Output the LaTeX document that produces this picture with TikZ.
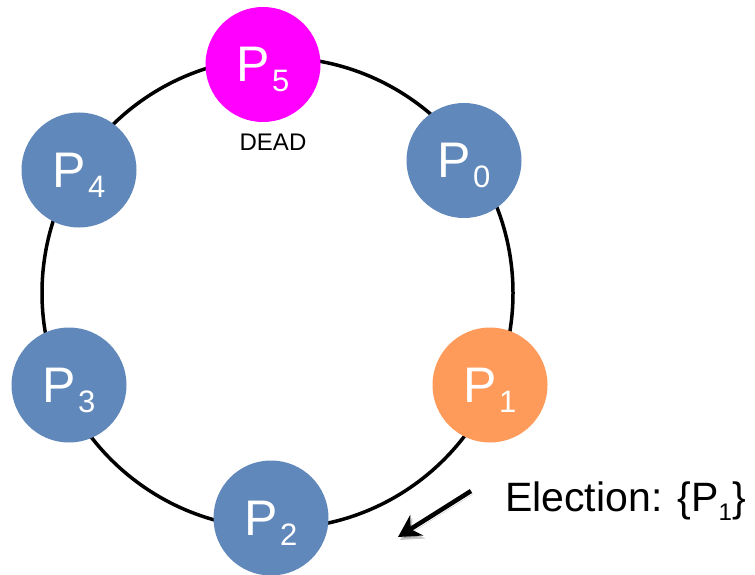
\documentclass[tikz,border=0pt]{standalone}
\usepackage{fontspec}
\setmainfont{Liberation Sans}
\usetikzlibrary{arrows.meta}
\definecolor{procblue}{HTML}{6088BA}
\definecolor{procorange}{HTML}{FE9A5A}
\definecolor{procdead}{HTML}{FF00FF}
\newcommand{\procname}[1]{P\kern2pt\raisebox{-10pt}[0pt][0pt]{\fontsize{31}{31}\selectfont #1}}

\begin{document}
\begin{tikzpicture}[
  x=1pt,y=-1pt,
  ring/.style={draw=black,line width=3.5pt},
  proc/.style={circle,minimum size=115pt,inner sep=0pt,fill=procblue,
               text=white,font=\fontsize{50}{50}\selectfont},
  note/.style={inner sep=0pt,text=black},
  arrow/.style={-{Stealth[length=22pt,width=24pt]},line width=4.5pt,draw=black,
                preaction={draw=black,opacity=.22,
                           transform canvas={shift={(2pt,-3pt)}}}}
]
\useasboundingbox (0,0) rectangle (755,575);
\coordinate (centre) at (277.5,293);
\draw[ring] (centre) circle[radius=235.5];

\node[proc,fill=procdead] (p5) at (263,64.5) {\procname{5}};
\node[proc] (p0) at (464,160.5) {\procname{0}};
\node[proc,fill=procorange] (p1) at (490,385) {\procname{1}};
\node[proc] (p2) at (271,518) {\procname{2}};
\node[proc] (p3) at (69,385) {\procname{3}};
\node[proc] (p4) at (79,170) {\procname{4}};

\node[note,anchor=base,font=\fontsize{24}{24}\selectfont] (dead) at (273,150.7) {DEAD};

\node[note,anchor=base west,font=\fontsize{41}{41}\selectfont] (election) at (505,511.7)
  {Election: \{P\raisebox{-9pt}{\fontsize{24}{24}\selectfont 1}\}};
\coordinate (arrowtail) at (471,491);
\coordinate (arrowtip) at (398,537);
\draw[arrow] (arrowtail) -- (arrowtip);
\end{tikzpicture}
\end{document}
